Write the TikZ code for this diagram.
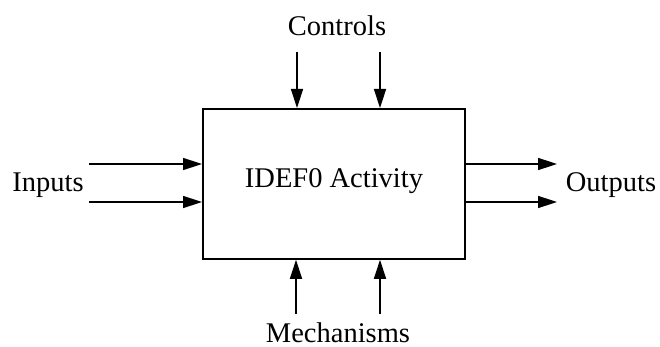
\documentclass[tikz,border=0pt]{standalone}
\usepackage{fontspec}
\setmainfont{Liberation Serif}
\usetikzlibrary{arrows.meta}
\begin{document}
\begin{tikzpicture}[x=1pt,y=-1pt,
  lbl/.style={font=\fontsize{28.5}{34}\selectfont, anchor=base, inner sep=0pt},
  flow/.style={line width=1.5pt, -{Triangle[length=19pt,width=12pt]}}]
\useasboundingbox (0,0) rectangle (660,347);

% activity box
\node[draw, line width=1.8pt, minimum width=262pt, minimum height=150pt,
      inner sep=0pt, anchor=north west] (act) at (202,108) {};
\node[lbl] (actlbl) at (334,188) {IDEF0 Activity};

% labels
\node[lbl] (ctl) at (337,36) {Controls};
\node[lbl] (inp) at (48,192) {Inputs};
\node[lbl] (outp) at (611,192) {Outputs};
\node[lbl, text depth=0pt] (mech) at (338,342) {Mechanisms};

% free ends of the arrows
\coordinate (c1) at (297,52);
\coordinate (c2) at (380,52);
\coordinate (i1) at (89,164);
\coordinate (i2) at (89,202);
\coordinate (o1) at (557,164);
\coordinate (o2) at (557,202);
\coordinate (m1) at (296,314);
\coordinate (m2) at (380,314);

% controls
\draw[flow] (c1) -- (c1 |- act.north);
\draw[flow] (c2) -- (c2 |- act.north);
% inputs
\draw[flow] (i1) -- (i1 -| act.west);
\draw[flow] (i2) -- (i2 -| act.west);
% outputs
\draw[flow] (o1 -| act.east) -- (o1);
\draw[flow] (o2 -| act.east) -- (o2);
% mechanisms
\draw[flow] (m1) -- (m1 |- act.south);
\draw[flow] (m2) -- (m2 |- act.south);
\end{tikzpicture}
\end{document}
